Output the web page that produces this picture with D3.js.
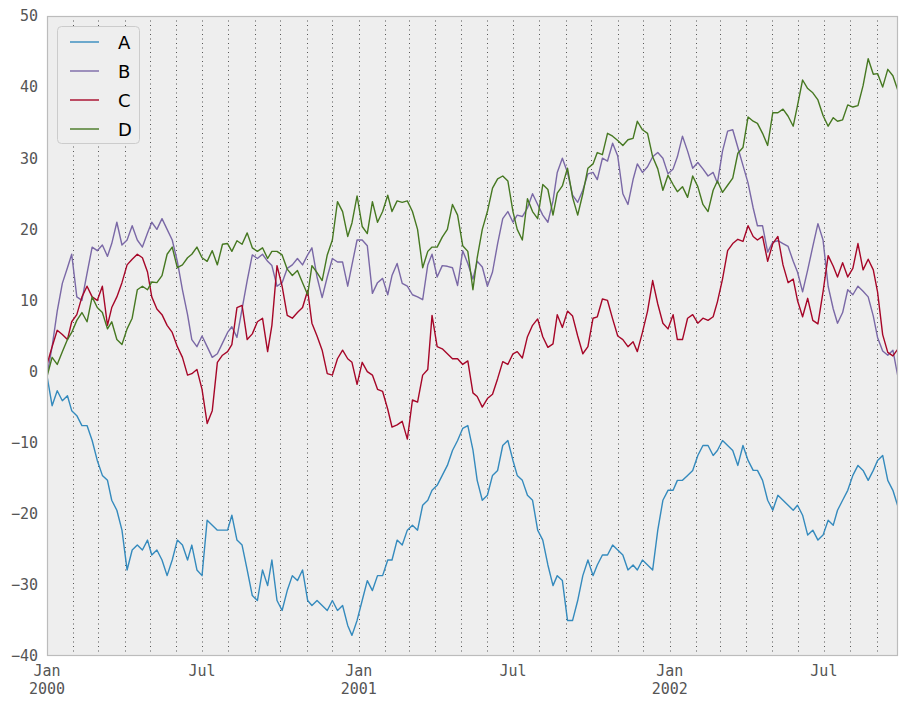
<!DOCTYPE html>
<meta charset="utf-8">
<style>
body { margin: 0; background: #fff; }
.tick text, .xlab { font-family: "DejaVu Sans Mono", monospace; font-size: 15px; fill: #555; }
.legend text { font-family: "DejaVu Sans", sans-serif; font-size: 18px; fill: #000; }
</style>
<body>
<script src="https://d3js.org/d3.v7.min.js"></script>
<script>

width = 908;
height = 704;
margin = ({top: 16, right: 10, bottom: 48, left: 47});

keys = ["A", "B", "C", "D"];
colors = ["#348ABD", "#7A68A6", "#A60628", "#467821"];

// values, roughly one every 6 days from 2000-01-01 to 2002-09-26
seriesA = [-0.6,
  -4.8, -2.7, -4.1, -3.4, -5.5, -6.2, -7.6, -7.6, -9.7, -12.5,
  -14.6, -15.3, -18.1, -19.5, -22.3, -27.9, -25.1, -24.4, -25.1, -23.7,
  -25.8, -25.1, -26.5, -28.7, -26.5, -23.7, -24.4, -26.5, -24.4, -27.9,
  -28.7, -20.9, -21.6, -22.3, -22.3, -22.3, -20.2, -23.7, -24.4, -27.9,
  -31.5, -32.2, -27.9, -30.1, -26.5, -32.2, -33.6, -30.8, -28.7, -29.4,
  -27.9, -32.2, -32.9, -32.2, -32.9, -33.6, -32.2, -33.6, -32.9, -35.7,
  -37.1, -35.0, -32.2, -29.4, -30.8, -28.7, -28.7, -26.5, -26.5, -23.7,
  -24.4, -22.3, -21.6, -22.3, -18.8, -18.1, -16.7, -16.0, -14.6, -13.2,
  -11.1, -9.7, -8.0, -7.6, -11.0, -15.3, -18.1, -17.4, -14.6, -13.9,
  -10.4, -9.7, -12.5, -14.6, -15.3, -17.4, -18.1, -22.3, -23.7, -27.2,
  -30.1, -28.7, -29.4, -35.0, -35.0, -32.2, -28.7, -26.5, -28.7, -27.2,
  -25.8, -25.8, -24.4, -25.1, -25.8, -27.9, -27.2, -27.9, -26.5, -27.2,
  -27.9, -22.3, -18.1, -16.7, -16.7, -15.3, -15.3, -14.6, -13.9, -11.8,
  -10.4, -10.4, -11.8, -11.1, -9.7, -10.4, -11.1, -13.2, -10.4, -12.5,
  -13.9, -13.9, -15.3, -18.1, -19.5, -17.4, -18.1, -18.8, -19.5, -18.8,
  -20.2, -23.0, -22.3, -23.7, -23.0, -20.9, -21.6, -19.5, -18.1, -16.7,
  -14.6, -13.2, -13.9, -15.3, -13.9, -12.5, -11.8, -15.3, -16.7, -19.0];

seriesB = [-0.5,
  3.5, 8.5, 12.4, 14.6, 16.5, 10.5, 10.0, 13.8, 17.5, 17.0,
  17.8, 16.2, 18.0, 21.0, 17.8, 18.5, 20.5, 18.5, 17.5, 19.5,
  21.0, 20.0, 21.5, 20.0, 18.5, 15.5, 11.5, 8.0, 4.5, 3.5,
  5.0, 3.5, 2.0, 2.5, 4.0, 5.5, 6.3, 4.8, 8.8, 12.8,
  16.4, 15.9, 16.5, 15.5, 14.9, 12.0, 12.5, 14.5, 15.0, 15.9,
  15.0, 16.4, 17.4, 13.3, 10.4, 13.3, 15.9, 15.4, 15.4, 12.0,
  15.0, 18.5, 18.5, 17.7, 11.0, 12.5, 13.1, 10.8, 13.5, 15.2,
  12.4, 12.0, 10.8, 10.5, 10.1, 15.0, 16.5, 13.3, 14.9, 14.8,
  14.6, 12.1, 17.0, 15.2, 13.0, 15.5, 14.7, 12.0, 14.0, 18.0,
  21.5, 22.5, 21.0, 22.0, 21.8, 23.0, 25.0, 23.5, 22.0, 21.0,
  24.0, 28.0, 30.0, 28.0, 24.8, 23.8, 25.5, 27.8, 28.0, 27.0,
  30.0, 29.6, 32.1, 30.3, 25.0, 23.5, 27.0, 29.2, 28.0, 28.8,
  30.2, 30.8, 30.0, 27.8, 28.5, 30.2, 33.1, 31.0, 28.6, 29.4,
  28.5, 27.5, 28.0, 26.5, 31.0, 33.8, 34.0, 31.5, 29.0, 26.5,
  23.0, 20.5, 20.5, 16.8, 18.2, 18.4, 18.0, 17.6, 15.5, 14.0,
  11.2, 14.3, 17.6, 20.8, 18.5, 12.0, 8.8, 6.8, 8.3, 11.5,
  10.8, 12.0, 11.3, 10.5, 7.8, 4.8, 2.9, 2.3, 3.0, -0.8];

seriesC = [1.0,
  3.5, 5.8, 5.2, 4.5, 7.0, 8.0, 10.5, 12.0, 10.5, 10.0,
  12.0, 6.5, 9.0, 10.5, 12.5, 15.0, 15.8, 16.5, 16.0, 14.0,
  10.5, 8.8, 8.0, 6.5, 5.5, 3.5, 2.0, -0.5, -0.3, 0.3,
  -2.5, -7.3, -5.5, 1.3, 2.3, 2.8, 3.8, 9.0, 9.3, 4.5,
  5.3, 7.0, 7.5, 2.8, 6.5, 14.9, 12.0, 7.9, 7.5, 8.3,
  9.0, 11.4, 6.8, 5.0, 3.0, -0.3, -0.5, 1.8, 3.0, 1.8,
  1.3, -1.8, 1.3, 0.0, -0.5, -2.5, -2.8, -5.3, -7.8, -7.5,
  -7.0, -9.5, -4.0, -4.3, -0.5, 0.3, 7.9, 3.5, 3.2, 2.5,
  1.8, 1.8, 1.0, 1.5, -3.0, -3.5, -5.0, -3.8, -3.2, -1.0,
  1.4, 1.0, 2.5, 2.8, 1.9, 4.9, 6.5, 7.4, 4.9, 3.4,
  3.9, 8.0, 6.2, 8.5, 7.8, 5.0, 2.5, 3.5, 7.5, 7.7,
  10.2, 10.0, 7.4, 5.0, 4.5, 3.5, 4.2, 2.8, 5.5, 8.5,
  12.8, 9.5, 6.8, 6.0, 8.0, 4.5, 4.5, 7.5, 8.0, 6.8,
  7.5, 7.2, 7.7, 9.8, 13.0, 17.0, 18.0, 18.6, 18.3, 20.5,
  19.0, 18.5, 19.0, 15.5, 18.0, 19.0, 15.0, 12.5, 13.0, 10.0,
  7.7, 10.3, 7.2, 6.7, 11.2, 16.3, 14.8, 13.3, 15.3, 13.3,
  14.5, 18.0, 14.3, 15.8, 14.3, 11.2, 5.2, 2.7, 2.2, 3.2];

seriesD = [-0.7,
  2.0, 1.0, 2.8, 4.5, 5.5, 7.2, 8.3, 7.0, 10.5, 9.0,
  8.3, 6.0, 7.0, 4.5, 3.8, 6.0, 7.5, 11.5, 12.0, 11.5,
  12.6, 12.5, 13.5, 16.5, 17.5, 14.6, 15.0, 16.0, 16.5, 17.5,
  16.0, 15.5, 17.0, 15.0, 17.9, 18.0, 16.9, 18.4, 17.9, 19.5,
  17.4, 16.9, 17.4, 15.9, 16.9, 16.9, 16.4, 14.4, 13.5, 14.2,
  12.5, 10.8, 14.9, 13.9, 12.8, 16.4, 18.5, 23.9, 22.5, 19.0,
  20.9, 24.7, 20.4, 19.4, 23.9, 21.0, 22.5, 24.8, 22.5, 24.0,
  23.8, 24.0, 22.5, 20.0, 14.6, 16.9, 17.5, 17.5, 18.9, 20.0,
  23.5, 22.0, 17.7, 16.9, 11.5, 16.0, 20.0, 22.5, 25.8, 27.1,
  27.5, 26.8, 22.5, 20.0, 18.5, 24.3, 22.5, 21.5, 26.3, 25.6,
  22.0, 25.1, 26.1, 28.6, 24.5, 22.0, 25.0, 28.6, 29.2, 30.8,
  30.5, 33.5, 33.1, 32.5, 31.8, 32.6, 32.8, 35.2, 34.0, 33.5,
  30.2, 28.5, 25.5, 27.6, 26.3, 25.3, 26.0, 24.5, 27.5, 26.0,
  23.5, 22.5, 25.5, 26.8, 25.2, 26.2, 27.2, 30.7, 31.5, 35.8,
  35.2, 34.9, 33.5, 31.8, 36.4, 36.4, 36.9, 35.9, 34.5, 37.4,
  41.0, 39.8, 39.2, 38.2, 36.0, 34.5, 35.7, 35.2, 35.4, 37.5,
  37.2, 37.4, 40.2, 44.0, 41.8, 41.9, 40.0, 42.5, 41.6, 39.5];

yTicks = [-40, -30, -20, -10, 0, 10, 20, 30, 40, 50];
xTickDates = [new Date(2000, 0, 1), new Date(2000, 6, 1), new Date(2001, 0, 1),
              new Date(2001, 6, 1), new Date(2002, 0, 1), new Date(2002, 6, 1)];
xTickLabels = [["Jan", "2000"], ["Jul"], ["Jan", "2001"], ["Jul"], ["Jan", "2002"], ["Jul"]];

start = new Date(2000, 0, 1);
end = new Date(2002, 8, 26);
totalDays = 999;

allSeries = [seriesA, seriesB, seriesC, seriesD].map((vals, i) => ({
  key: keys[i],
  color: colors[i],
  points: vals.map((v, j) => ({
    date: d3.timeDay.offset(start, Math.round(j * totalDays / (vals.length - 1))),
    value: v
  }))
}));

x = d3.scaleTime([start, end], [margin.left, width - margin.right]);
y = d3.scaleLinear([-40, 50], [height - margin.bottom, margin.top]);

svg = d3.select("body").append("svg")
    .attr("width", width)
    .attr("height", height);

svg.append("rect")
    .attr("x", margin.left)
    .attr("y", margin.top)
    .attr("width", width - margin.left - margin.right)
    .attr("height", height - margin.top - margin.bottom)
    .attr("fill", "#EEEEEE");

svg.append("clipPath").attr("id", "plot")
  .append("rect")
    .attr("x", margin.left)
    .attr("y", margin.top)
    .attr("width", width - margin.left - margin.right)
    .attr("height", height - margin.top - margin.bottom);

// dotted monthly grid
svg.append("g")
  .selectAll("line")
  .data(d3.timeMonth.range(new Date(2000, 1, 1), end))
  .join("line")
    .attr("x1", d => Math.round(x(d)) + 0.5)
    .attr("x2", d => Math.round(x(d)) + 0.5)
    .attr("y1", margin.top)
    .attr("y2", height - margin.bottom)
    .attr("stroke", "#555")
    .attr("stroke-width", 1)
    .attr("stroke-dasharray", "1,3.5");

line = d3.line()
    .x(d => x(d.date))
    .y(d => y(d.value));

svg.append("g")
    .attr("clip-path", "url(#plot)")
  .selectAll("path")
  .data(allSeries)
  .join("path")
    .attr("d", d => line(d.points))
    .attr("fill", "none")
    .attr("stroke", d => d.color)
    .attr("stroke-width", 1.4)
    .attr("stroke-linejoin", "round");

// frame
svg.append("rect")
    .attr("x", margin.left + 0.5)
    .attr("y", margin.top + 0.5)
    .attr("width", width - margin.left - margin.right - 1)
    .attr("height", height - margin.top - margin.bottom - 1)
    .attr("fill", "none")
    .attr("stroke", "#BCBCBC")
    .attr("stroke-width", 1.2);

yAxis = svg.append("g")
    .attr("transform", `translate(${margin.left},0)`)
    .call(d3.axisLeft(y).tickValues(yTicks).tickSize(0).tickPadding(9));
yAxis.select(".domain").remove();
yAxis.selectAll(".tick text").attr("class", null)
    .style("font-family", "'DejaVu Sans Mono', monospace")
    .style("font-size", "15px")
    .attr("fill", "#555");

xlab = svg.append("g")
  .selectAll("text")
  .data(xTickDates)
  .join("text")
    .attr("class", "xlab")
    .attr("text-anchor", "middle")
    .attr("x", d => x(d))
    .attr("y", height - margin.bottom + 20);
xlab.selectAll("tspan")
  .data((d, i) => xTickLabels[i])
  .join("tspan")
    .attr("x", function() { return this.parentNode.getAttribute("x"); })
    .attr("dy", (d, i) => i ? 18 : 0)
    .text(d => d);

// legend
legend = svg.append("g").attr("class", "legend");
legend.append("rect")
    .attr("x", 57.5)
    .attr("y", 26.5)
    .attr("width", 82)
    .attr("height", 117)
    .attr("rx", 4)
    .attr("fill", "#EEEEEE")
    .attr("stroke", "#CCCCCC");

items = legend.selectAll("g.item")
  .data(allSeries)
  .join("g")
    .attr("class", "item")
    .attr("transform", (d, i) => `translate(0,${42 + i * 29})`);
items.append("line")
    .attr("x1", 70).attr("x2", 99)
    .attr("stroke", d => d.color)
    .attr("stroke-width", 1.4);
items.append("text")
    .attr("x", 118)
    .attr("y", 6.5)
    .text(d => d.key);

</script>
